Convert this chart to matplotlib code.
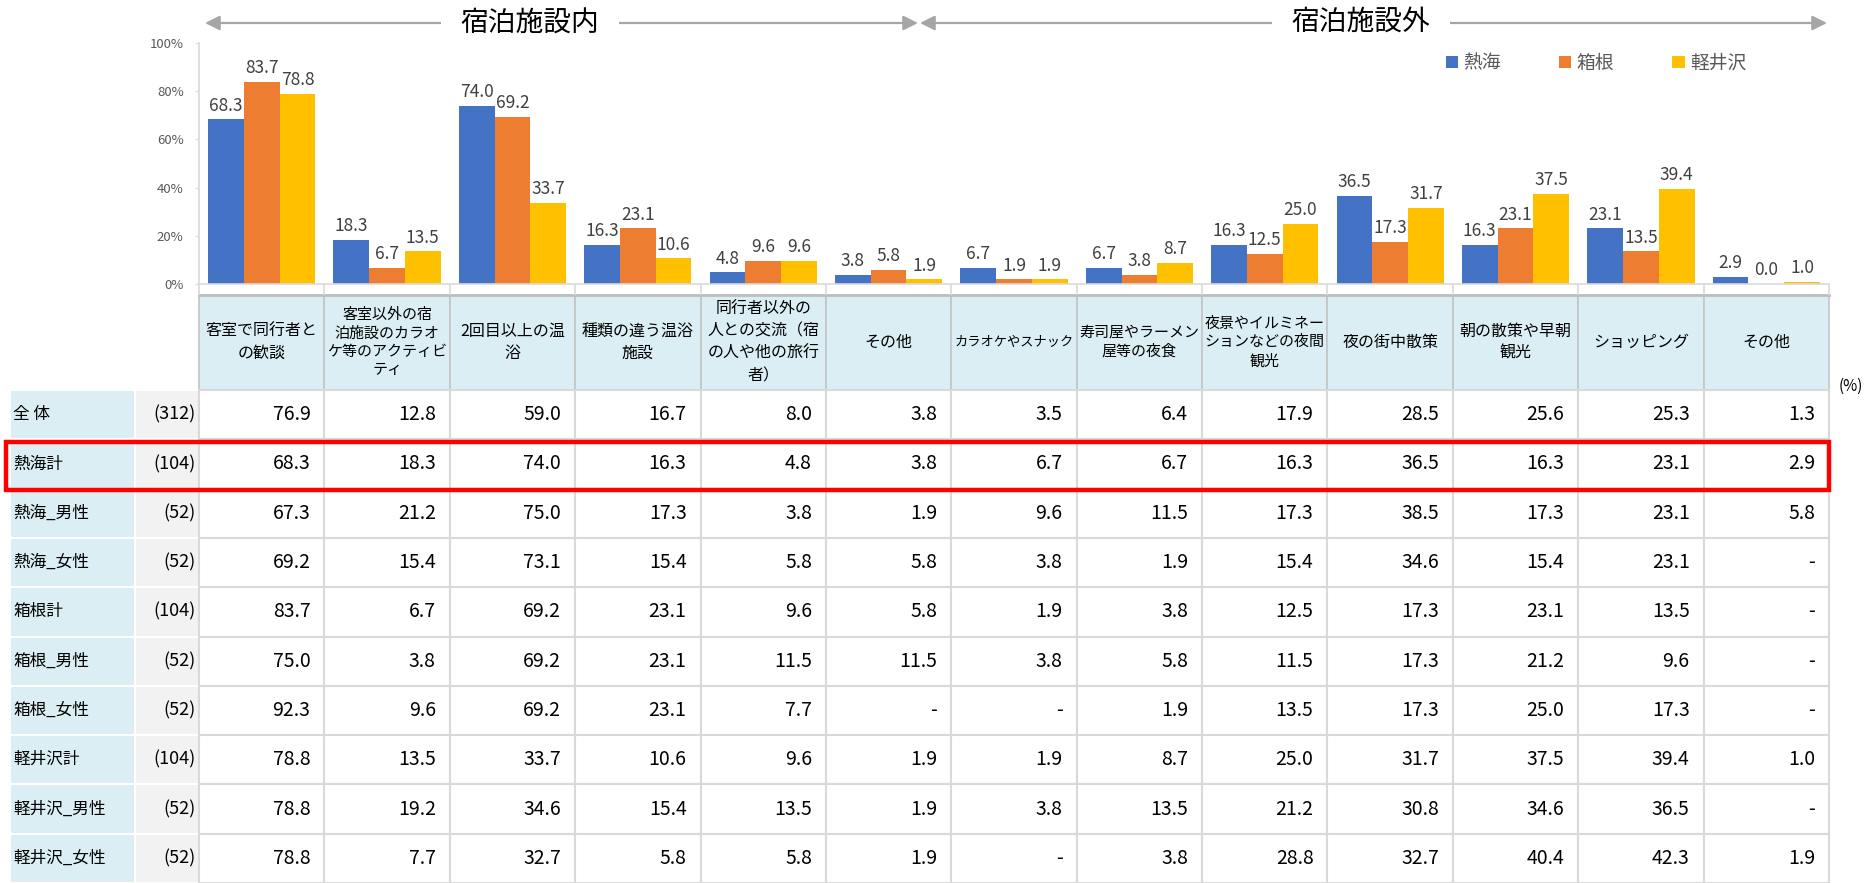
import matplotlib
matplotlib.use("Agg")
import matplotlib.pyplot as plt
from matplotlib.patches import Rectangle

plt.rcParams['font.family'] = ['Noto Sans CJK JP', 'DejaVu Sans']

# ---- data ----
headers = [
    "客室で同行者と\nの歓談",
    "客室以外の宿\n泊施設のカラオ\nケ等のアクティビ\nティ",
    "2回目以上の温\n浴",
    "種類の違う温浴\n施設",
    "同行者以外の\n人との交流（宿\nの人や他の旅行\n者）",
    "その他",
    "カラオケやスナック",
    "寿司屋やラーメン\n屋等の夜食",
    "夜景やイルミネー\nションなどの夜間\n観光",
    "夜の街中散策",
    "朝の散策や早朝\n観光",
    "ショッピング",
    "その他",
]
row_labels = ["全 体", "熱海計", "熱海_男性", "熱海_女性", "箱根計",
              "箱根_男性", "箱根_女性", "軽井沢計", "軽井沢_男性", "軽井沢_女性"]
row_n = ["(312)", "(104)", "(52)", "(52)", "(104)", "(52)", "(52)", "(104)", "(52)", "(52)"]

# None = "-"
zentai      = [76.9, 12.8, 59.0, 16.7, 8.0, 3.8, 3.5, 6.4, 17.9, 28.5, 25.6, 25.3, 1.3]
atami       = [68.3, 18.3, 74.0, 16.3, 4.8, 3.8, 6.7, 6.7, 16.3, 36.5, 16.3, 23.1, 2.9]
atami_m     = [67.3, 21.2, 75.0, 17.3, 3.8, 1.9, 9.6, 11.5, 17.3, 38.5, 17.3, 23.1, 5.8]
atami_f     = [69.2, 15.4, 73.1, 15.4, 5.8, 5.8, 3.8, 1.9, 15.4, 34.6, 15.4, 23.1, None]
hakone      = [83.7, 6.7, 69.2, 23.1, 9.6, 5.8, 1.9, 3.8, 12.5, 17.3, 23.1, 13.5, None]
hakone_m    = [75.0, 3.8, 69.2, 23.1, 11.5, 11.5, 3.8, 5.8, 11.5, 17.3, 21.2, 9.6, None]
hakone_f    = [92.3, 9.6, 69.2, 23.1, 7.7, None, None, 1.9, 13.5, 17.3, 25.0, 17.3, None]
karuizawa   = [78.8, 13.5, 33.7, 10.6, 9.6, 1.9, 1.9, 8.7, 25.0, 31.7, 37.5, 39.4, 1.0]
karuizawa_m = [78.8, 19.2, 34.6, 15.4, 13.5, 1.9, 3.8, 13.5, 21.2, 30.8, 34.6, 36.5, None]
karuizawa_f = [78.8, 7.7, 32.7, 5.8, 5.8, 1.9, None, 3.8, 28.8, 32.7, 40.4, 42.3, 1.9]

table_rows = [zentai, atami, atami_m, atami_f, hakone, hakone_m, hakone_f,
              karuizawa, karuizawa_m, karuizawa_f]

series_names = ["熱海", "箱根", "軽井沢"]
series_values = [atami, hakone, karuizawa]
series_colors = ["#4472C4", "#ED7D31", "#FFC000"]

# ---- layout (pixels) ----
W, H = 1872, 883
col_x0, col_x1 = 199, 1829
ncol = len(headers)
col_w = (col_x1 - col_x0) / ncol
head_top, head_bot = 295, 390
row_h = (H - head_bot) / len(row_labels)
lab_x0, n_x0 = 10, 135

fig = plt.figure(figsize=(W / 100, H / 100), dpi=100)

# overlay in pixel coords for table and decorations
tab = fig.add_axes([0, 0, 1, 1])
tab.set_xlim(0, W)
tab.set_ylim(H, 0)
tab.axis('off')

line_c = "#D9D9D9"
head_c = "#DAEEF3"

for j, h in enumerate(headers):
    x = col_x0 + j * col_w
    tab.add_patch(Rectangle((x, head_top), col_w, head_bot - head_top,
                            facecolor=head_c, edgecolor="#C4C4C4", lw=1.2))
    longest = max(len(s) for s in h.split("\n"))
    fs = 11.5 if longest <= 7 else (10.8 if longest == 8 else 9.5)
    tab.text(x + col_w / 2, (head_top + head_bot) / 2, h, ha='center', va='center',
             fontsize=fs, color="#000000", linespacing=1.4)
tab.plot([col_x0, col_x1], [head_top, head_top], color="#BFBFBF", lw=2)

for i, lab in enumerate(row_labels):
    y = head_bot + i * row_h
    yc = y + row_h / 2
    tab.add_patch(Rectangle((lab_x0, y), n_x0 - lab_x0, row_h,
                            facecolor=head_c, edgecolor="white", lw=1.5))
    tab.add_patch(Rectangle((n_x0, y), col_x0 - n_x0, row_h,
                            facecolor="#F2F2F2", edgecolor="white", lw=1.5))
    tab.text(lab_x0 + 3, yc, lab, ha='left', va='center', fontsize=12)
    tab.text(col_x0 - 3, yc, row_n[i], ha='right', va='center', fontsize=13)
    for j, v in enumerate(table_rows[i]):
        x = col_x0 + j * col_w
        tab.add_patch(Rectangle((x, y), col_w, row_h,
                                facecolor="white", edgecolor=line_c, lw=1.5))
        s = "-" if v is None else f"{v:.1f}"
        tab.text(x + col_w - 14, yc, s, ha='right', va='center', fontsize=14)

# highlight 熱海計
hy = head_bot + 1 * row_h
tab.add_patch(Rectangle((6, hy + 3), col_x1 - 6, row_h - 2,
                        facecolor='none', edgecolor='#FF0000', lw=3.2, zorder=5))

tab.text(1851, 386, "(%)", ha='center', va='center', fontsize=11)

# section arrows
arrow_c = "#A6A6A6"
mid = 919
tab.annotate("", xy=(mid - 1, 23), xytext=(205, 23),
             arrowprops=dict(arrowstyle='<|-|>', color=arrow_c, lw=1.6,
                             mutation_scale=22, shrinkA=0, shrinkB=0))
tab.annotate("", xy=(1827, 23), xytext=(mid + 1, 23),
             arrowprops=dict(arrowstyle='<|-|>', color=arrow_c, lw=1.6,
                             mutation_scale=22, shrinkA=0, shrinkB=0))
box = dict(boxstyle='square,pad=0.7', facecolor='white', edgecolor='none')
tab.text(530, 24, "宿泊施設内", ha='center', va='center', fontsize=20, bbox=box)
tab.text(1361, 22, "宿泊施設外", ha='center', va='center', fontsize=20, bbox=box)

# ---- bar chart ----
ax = fig.add_axes([col_x0 / W, 1 - 284 / H, (col_x1 - col_x0) / W, (284 - 43) / H])
ax.patch.set_alpha(0)
ax.set_xlim(-0.5, ncol - 0.5)
ax.set_ylim(0, 100)
bw = 0.285
xs = list(range(ncol))
for k, (name, vals, c) in enumerate(zip(series_names, series_values, series_colors)):
    vv = [0.0 if v is None else v for v in vals]
    pos = [x + (k - 1) * bw for x in xs]
    ax.bar(pos, vv, width=bw, color=c, label=name)
    for p, v in zip(pos, vv):
        ax.text(p, v + 2, f"{v:.1f}", ha='center', va='bottom', fontsize=12.5, color="#404040")

ax.set_yticks(range(0, 101, 20))
ax.set_yticklabels([f"{t}%" for t in range(0, 101, 20)], fontsize=9.5, color="#595959")
ax.tick_params(axis='y', length=3, color=line_c, pad=8)
ax.set_xticks([x - 0.5 for x in range(ncol + 1)])
ax.set_xticklabels([])
ax.tick_params(axis='x', length=8, color=line_c, width=1.2)
for s in ['top', 'right']:
    ax.spines[s].set_visible(False)
for s in ['left', 'bottom']:
    ax.spines[s].set_color(line_c)
    ax.spines[s].set_linewidth(1.2)

leg = ax.legend(loc='center', bbox_to_anchor=(1596 / W, 1 - 63 / H),
                bbox_transform=fig.transFigure, ncol=3, frameon=False,
                handlelength=0.65, handleheight=0.65, handletextpad=0.3,
                columnspacing=3.1, fontsize=13.5)
for t in leg.get_texts():
    t.set_color("#595959")

fig.savefig("out.png", dpi=100)
